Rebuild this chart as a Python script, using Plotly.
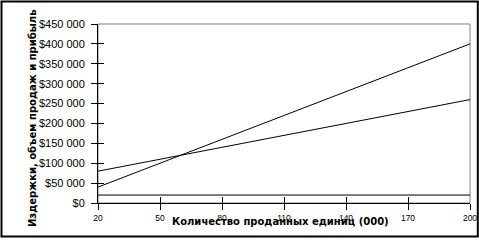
import plotly.graph_objects as go

units = [20, 50, 80, 110, 140, 170, 200]
costs = [80000, 110000, 140000, 170000, 200000, 230000, 260000]
revenue = [40000, 100000, 160000, 220000, 280000, 340000, 400000]
fixed_line = [20000, 20000, 20000, 20000, 20000, 20000, 20000]
y_ticks = [0, 50000, 100000, 150000, 200000, 250000, 300000, 350000, 400000, 450000]
y_labels = ["$0", "$50 000", "$100 000", "$150 000", "$200 000", "$250 000",
            "$300 000", "$350 000", "$400 000", "$450 000"]

W, H = 479, 240
L, R, T, B = 98, 9, 24, 37
pw, ph = W - L - R, H - T - B

fig = go.Figure()
for name, vals in [("Издержки", costs), ("Объем продаж", revenue), ("Прибыль", fixed_line)]:
    fig.add_trace(go.Scatter(x=units, y=vals, mode="lines", name=name,
                             line=dict(color="black", width=1), xaxis="x", yaxis="y"))
# helper invisible trace for inward tick halves
fig.add_trace(go.Scatter(x=[20], y=[0], mode="markers", marker=dict(opacity=0),
                         xaxis="x2", yaxis="y2", showlegend=False, hoverinfo="skip"))

tickfont_y = dict(family="Liberation Sans, Arial", size=11, color="black")
tickfont_x = dict(family="Liberation Sans, Arial", size=8.5, color="black")

fig.update_layout(
    template="none",
    width=W, height=H,
    margin=dict(l=L, r=R, t=T, b=B, pad=0, autoexpand=False),
    paper_bgcolor="white", plot_bgcolor="white",
    showlegend=False,
    xaxis=dict(range=[20, 200], tickvals=units, ticktext=[str(u) for u in units],
               ticks="outside", ticklen=6, tickwidth=1, tickcolor="black",
               showline=True, linecolor="black", linewidth=1, showgrid=False,
               zeroline=False, tickfont=tickfont_x, ticklabelstandoff=1,
               automargin=False),
    yaxis=dict(range=[0, 450000], tickvals=y_ticks, ticktext=y_labels,
               ticks="outside", ticklen=6, tickwidth=1, tickcolor="black",
               showline=True, linecolor="black", linewidth=1, showgrid=False,
               zeroline=False, tickfont=tickfont_y, ticklabelstandoff=4,
               automargin=False,
               title=dict(text="<b>Издержки, объем продаж и прибыль</b>&nbsp;&nbsp;&nbsp;",
                          standoff=0,
                          font=dict(family="DejaVu Sans", size=10, color="black"))),
    xaxis2=dict(range=[20, 200], tickvals=units, ticks="inside", ticklen=6,
                tickwidth=1, tickcolor="black", showticklabels=False,
                showline=False, showgrid=False, zeroline=False,
                overlaying="x", anchor="y2", side="bottom", automargin=False),
    yaxis2=dict(range=[0, 450000], tickvals=y_ticks, ticks="inside", ticklen=6,
                tickwidth=1, tickcolor="black", showticklabels=False,
                showline=False, showgrid=False, zeroline=False,
                overlaying="y", anchor="x2", side="left", automargin=False),
    shapes=[
        dict(type="rect", xref="paper", yref="paper", x0=0, x1=1, y0=0, y1=1,
             line=dict(color="#808080", width=1), layer="below"),
        dict(type="rect", xref="paper", yref="paper",
             x0=(1.5 - L) / pw, x1=(477.8 - L) / pw,
             y0=(H - B - 236.5) / ph, y1=(H - B - 1.5) / ph,
             line=dict(color="black", width=2)),
    ],
    annotations=[
        dict(text="<b>Количество проданных единиц (000)</b>", xref="paper", yref="paper",
             x=(280 - L) / pw, y=(H - B - 221) / ph, showarrow=False,
             xanchor="center", yanchor="middle",
             font=dict(family="DejaVu Sans", size=10, color="black")),
    ],
)

fig.write_html("out.html", config={"responsive": False})
